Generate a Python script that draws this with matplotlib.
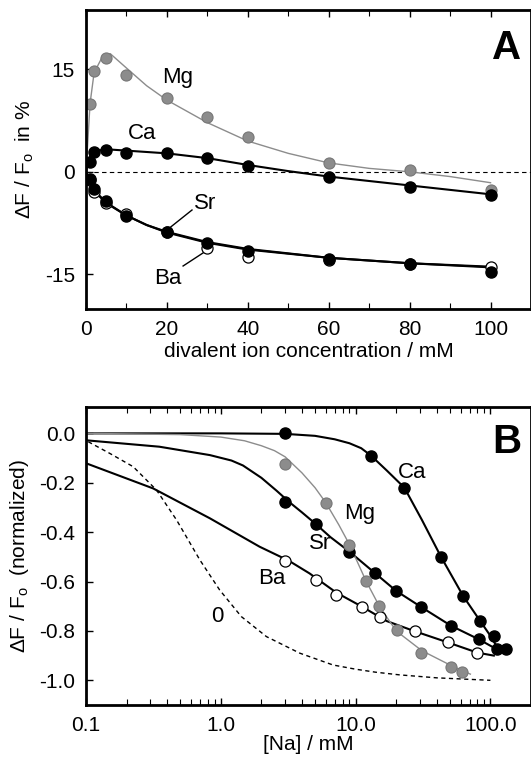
import numpy as np
import matplotlib.pyplot as plt
from matplotlib.ticker import FixedLocator, LogLocator, NullFormatter

plt.rcParams['font.family'] = ['Liberation Sans', 'DejaVu Sans']
plt.rcParams['mathtext.fontset'] = 'custom'
plt.rcParams['mathtext.rm'] = 'Liberation Sans'
plt.rcParams['mathtext.it'] = 'Liberation Sans'
plt.rcParams['axes.unicode_minus'] = False

# ---- panel A: divalent ion titration (mM vs dF/Fo in %) ----
conc = [1, 2, 5, 10, 20, 30, 40, 60, 80, 100]
mg_a = [10.0, 14.8, 16.7, 14.2, 10.8, 8.0, 5.1, 1.3, 0.3, -2.6]
ca_a = [1.4, 2.9, 3.2, 2.8, 2.8, 2.0, 0.8, -0.8, -2.2, -3.4]
sr_a = [-1.1, -2.5, -4.3, -6.5, -8.8, -10.5, -11.6, -12.8, -13.5, -14.7]
ba_a = [-1.2, -3.0, -4.5, -6.2, -8.8, -11.2, -12.5, -12.9, -13.5, -13.9]

# fitted curves
mg_fit_x = [0, 0.5, 1, 2, 4, 6, 10, 15, 20, 30, 40, 50, 60, 70, 80, 90, 100]
mg_fit_y = [0, 5.0, 10.0, 14.5, 16.8, 17.3, 15.2, 12.6, 10.5, 7.2, 4.5, 2.7, 1.3, 0.5, 0.0, -0.7, -1.6]
ca_fit_x = [0, 0.5, 1, 2, 5, 10, 20, 30, 40, 50, 60, 80, 100]
ca_fit_y = [0, 1.5, 2.3, 3.0, 3.3, 3.1, 2.7, 2.0, 1.0, 0.1, -0.7, -2.0, -3.3]
sr_fit_x = [0, 0.5, 1, 2, 5, 10, 15, 20, 30, 40, 60, 80, 100]
sr_fit_y = [0, -1.0, -1.7, -2.7, -4.5, -6.4, -7.8, -8.8, -10.3, -11.3, -12.6, -13.4, -14.0]
ba_fit_y = [0, -1.0, -1.8, -2.8, -4.6, -6.4, -7.8, -8.9, -10.4, -11.4, -12.6, -13.4, -13.9]

# ---- panel B: Na titration at fixed divalent ion ----
ca_na = [3, 13, 23, 43, 63, 84, 106, 131]
ca_b = [0.0, -0.09, -0.22, -0.50, -0.66, -0.76, -0.82, -0.875]
mg_na = [3, 6, 9, 12, 15, 20.4, 30.7, 51, 61.6]
mg_b = [-0.125, -0.28, -0.452, -0.597, -0.70, -0.796, -0.888, -0.947, -0.965]
sr_na = [3, 5.06, 9, 14, 20, 30.7, 51, 82, 112]
sr_b = [-0.277, -0.367, -0.479, -0.567, -0.638, -0.705, -0.779, -0.834, -0.875]
ba_na = [3, 5.06, 7.2, 11.1, 15.1, 27.4, 48.3, 79.6]
ba_b = [-0.516, -0.594, -0.655, -0.702, -0.742, -0.80, -0.846, -0.891]

ca_bfit_x = [0.1, 1, 3, 5, 7, 9, 11, 13, 17, 23, 31, 43, 63, 84, 100, 112, 125]
ca_bfit_y = [0.0, 0.0, -0.002, -0.01, -0.024, -0.04, -0.06, -0.09, -0.15, -0.22, -0.35,
             -0.50, -0.66, -0.76, -0.82, -0.865, -0.875]
mg_bfit_x = [0.1, 0.5, 1, 1.5, 2, 2.5, 3, 4, 5, 6, 7.5, 9, 12, 15, 20, 31, 51, 71]
mg_bfit_y = [0.0, -0.005, -0.015, -0.03, -0.05, -0.07, -0.095, -0.16, -0.22, -0.28, -0.37,
             -0.45, -0.60, -0.70, -0.80, -0.88, -0.94, -0.975]
sr_bfit_x = [0.1, 0.35, 0.83, 1.2, 1.46, 2.0, 2.59, 3.2, 4.0, 5.06, 6.5, 9, 14, 20, 31,
             51, 82, 112]
sr_bfit_y = [-0.028, -0.054, -0.088, -0.11, -0.13, -0.18, -0.232, -0.277, -0.32, -0.367,
             -0.42, -0.479, -0.567, -0.638, -0.705, -0.779, -0.834, -0.875]
ba_bfit_x = [0.1, 0.315, 0.83, 1.94, 3.2, 4.55, 7.2, 11, 17, 27, 48, 80, 106]
ba_bfit_y = [-0.121, -0.223, -0.344, -0.459, -0.516, -0.567, -0.645, -0.70, -0.76, -0.80,
             -0.846, -0.888, -0.90]
zero_x = [0.104, 0.15, 0.224, 0.334, 0.47, 0.70, 0.98, 1.42, 2.18, 3.85, 6.8, 10, 14,
          21.2, 40, 100]
zero_y = [-0.034, -0.081, -0.135, -0.23, -0.351, -0.513, -0.634, -0.742, -0.823, -0.89,
          -0.938, -0.955, -0.967, -0.978, -0.99, -1.0]

grey = '#8c8c8c'
fs_tick = 15
fs_lab = 16

fig = plt.figure(figsize=(5.31, 7.62), dpi=100)
axA = fig.add_axes([86 / 531, 1 - 309 / 762, 1 - 86 / 531, 299 / 762])
axB = fig.add_axes([86 / 531, 1 - 705 / 762, 1 - 86 / 531, 298.3 / 762])

for ax in (axA, axB):
    for s in ax.spines.values():
        s.set_linewidth(2.0)
    ax.tick_params(which='both', direction='in', top=True, right=False,
                   labelsize=fs_tick, pad=8)
    ax.tick_params(which='major', length=5, width=1)
    ax.tick_params(which='minor', length=4, width=0.8)

# panel A
axA.axhline(0, color='black', lw=0.8, ls=(0, (4, 3)))
axA.plot(mg_fit_x, mg_fit_y, color=grey, lw=1.0)
axA.plot(ca_fit_x, ca_fit_y, color='black', lw=1.5)
axA.plot(sr_fit_x, ba_fit_y, color='black', lw=1.5)
axA.plot(sr_fit_x, sr_fit_y, color='black', lw=1.5)
axA.plot(conc, mg_a, 'o', ms=8, mfc=grey, mec='#777777', mew=0.8)
axA.plot(conc, ca_a, 'o', ms=8, mfc='black', mec='black')
axA.plot(conc, ba_a, 'o', ms=8, mfc='white', mec='black', mew=0.9)
axA.plot(conc, sr_a, 'o', ms=8, mfc='black', mec='black')

axA.set_xlim(0, 110)
axA.set_ylim(-20.1, 23.7)
axA.set_xticks([0, 20, 40, 60, 80, 100])
axA.xaxis.set_minor_locator(FixedLocator([10, 30, 50, 70, 90]))
axA.set_yticks([15, 0, -15])
axA.set_xlabel('divalent ion concentration / mM', fontsize=fs_tick, labelpad=2)
axA.set_ylabel('$\\Delta$F / F$_\\mathrm{o}$  in %', fontsize=fs_tick, labelpad=6)

axA.text(22.7, 13.8, 'Mg', fontsize=fs_lab, ha='center', va='center')
axA.text(13.8, 5.6, 'Ca', fontsize=fs_lab, ha='center', va='center')
axA.text(29.4, -4.7, 'Sr', fontsize=fs_lab, ha='center', va='center')
axA.text(20.2, -15.7, 'Ba', fontsize=fs_lab, ha='center', va='center')
axA.plot([26.2, 20.7], [-5.6, -8.2], color='black', lw=1.0)
axA.plot([24.0, 28.9], [-13.8, -11.9], color='black', lw=1.0)
axA.text(104, 18.2, 'A', fontsize=29, fontweight='bold', ha='center', va='center')

# panel B
axB.set_xscale('log')
axB.plot(zero_x, zero_y, color='black', lw=1.0, ls=(0, (3, 2.5)))
axB.plot(ba_bfit_x, ba_bfit_y, color='black', lw=1.5)
axB.plot(sr_bfit_x, sr_bfit_y, color='black', lw=1.5)
axB.plot(ca_bfit_x, ca_bfit_y, color='black', lw=1.5)
axB.plot(mg_bfit_x, mg_bfit_y, color=grey, lw=1.0)
axB.plot(ba_na, ba_b, 'o', ms=8, mfc='white', mec='black', mew=0.9)
axB.plot(sr_na, sr_b, 'o', ms=8, mfc='black', mec='black')
axB.plot(ca_na, ca_b, 'o', ms=8, mfc='black', mec='black')
axB.plot(mg_na, mg_b, 'o', ms=8, mfc=grey, mec='#777777', mew=0.8)

axB.set_xlim(0.1, 200)
axB.set_ylim(-1.1, 0.108)
axB.set_xticks([0.1, 1, 10, 100])
axB.set_xticklabels(['0.1', '1.0', '10.0', '100.0'])
axB.xaxis.set_minor_locator(LogLocator(base=10, subs=np.arange(2, 10)))
axB.xaxis.set_minor_formatter(NullFormatter())
axB.set_yticks([0.0, -0.2, -0.4, -0.6, -0.8, -1.0])
axB.set_yticklabels(['0.0', '-0.2', '-0.4', '-0.6', '-0.8', '-1.0'])
axB.set_xlabel('[Na] / mM', fontsize=fs_tick, labelpad=0)
axB.set_ylabel('$\\Delta$F / F$_\\mathrm{o}$  (normalized)', fontsize=fs_tick, labelpad=6)

axB.text(26.4, -0.16, 'Ca', fontsize=fs_lab, ha='center', va='center')
axB.text(10.7, -0.323, 'Mg', fontsize=fs_lab, ha='center', va='center')
axB.text(5.41, -0.444, 'Sr', fontsize=fs_lab, ha='center', va='center')
axB.text(2.39, -0.586, 'Ba', fontsize=fs_lab, ha='center', va='center')
axB.text(0.95, -0.743, '0', fontsize=fs_lab, ha='center', va='center')
axB.text(131.5, -0.035, 'B', fontsize=29, fontweight='bold', ha='center', va='center')

fig.savefig('out.png', dpi=100)
